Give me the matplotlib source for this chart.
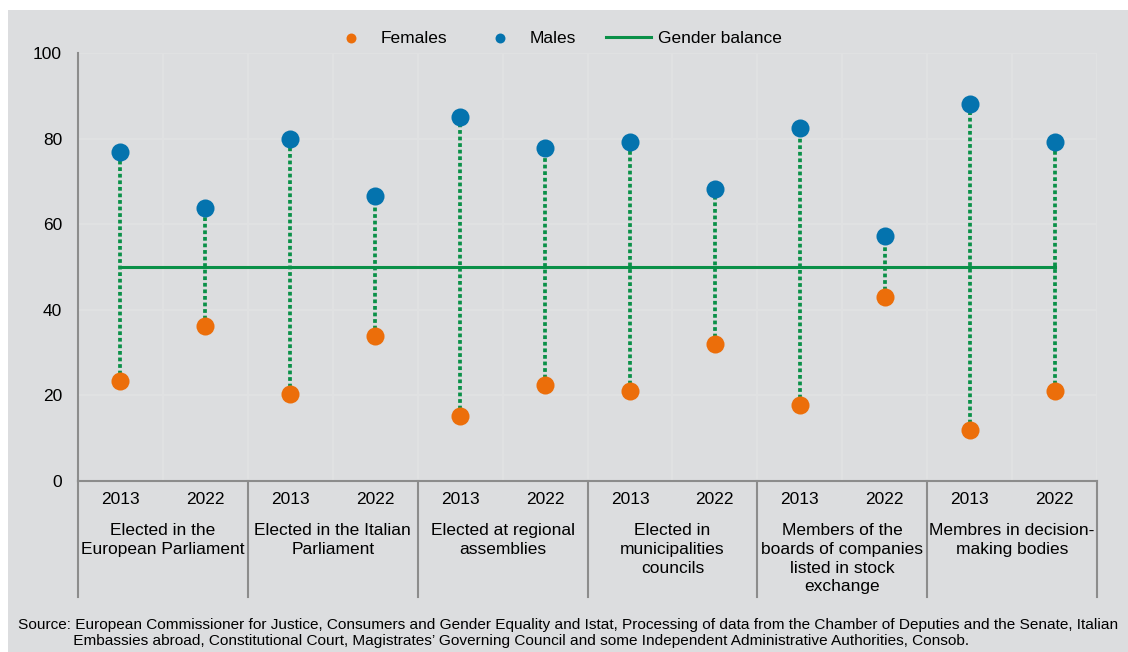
import numpy as np
import matplotlib.pyplot as plt
from matplotlib.patches import Rectangle

plt.rcParams['font.family'] = ['Liberation Sans', 'DejaVu Sans']

# -----------------------------
# Data
# -----------------------------
groups = ["Elected in the\nEuropean Parliament",
          "Elected in the Italian\nParliament",
          "Elected at regional\nassemblies",
          "Elected in\nmunicipalities\ncouncils",
          "Members of the\nboards of companies\nlisted in stock\nexchange",
          "Membres in decision-\nmaking bodies"]
years = ["2013", "2022"]

males = [76.8, 63.9, 79.9, 66.5, 85.0, 77.8, 79.3, 68.2, 82.4, 57.2, 88.0, 79.2]
females = [23.3, 36.3, 20.4, 33.8, 15.1, 22.4, 21.0, 32.0, 17.8, 43.0, 12.0, 21.1]
balance = 50

c_fem = '#EC6E0A'
c_mal = '#0473AE'
c_green = '#0A9048'
bg = '#DCDDDF'
grid_c = '#E1E2E3'
fs = 12.5

x = np.arange(len(males))

fig = plt.figure(figsize=(11.28, 6.52), dpi=100)
fig.patch.set_facecolor(bg)
# white strip at top / left (cropped page)
fig.add_artist(Rectangle((0, 1 - 10 / 652), 1, 10 / 652, transform=fig.transFigure,
                         facecolor='white', edgecolor='none', zorder=0))
fig.add_artist(Rectangle((0, 0), 8 / 1128, 1, transform=fig.transFigure,
                         facecolor='white', edgecolor='none', zorder=0))

ax = fig.add_axes([78 / 1128, 1 - 481 / 652, (1097 - 78) / 1128, (481 - 53) / 652])
ax.set_facecolor(bg)
ax.set_xlim(-0.5, len(males) - 0.5)
ax.set_ylim(0, 100)

# grid
for yy in range(20, 101, 20):
    ax.axhline(yy, color=grid_c, lw=1.2, zorder=0)
for xx in np.arange(0.5, len(males), 1):
    ax.axvline(xx, color=grid_c, lw=1.2, zorder=0)

# dotted connectors
for xi, f, m in zip(x, females, males):
    ax.plot([xi, xi], [f, m], color=c_green, lw=2.7, ls=(0, (1, 0.75)), zorder=2)

ax.plot([x[0], x[-1]], [balance, balance], color=c_green, lw=2.2, zorder=2,
        label='Gender balance')
ax.scatter(x, females, s=13 ** 2, color=c_fem, zorder=3, linewidths=0, label='Females')
ax.scatter(x, males, s=13 ** 2, color=c_mal, zorder=3, linewidths=0, label='Males')

for s in ['top', 'right']:
    ax.spines[s].set_visible(False)
ax.spines['left'].set_color('#8c8c8c')
ax.spines['bottom'].set_color('#8c8c8c')
ax.spines['left'].set_linewidth(1.5)
ax.spines['bottom'].set_linewidth(1.5)

ax.set_yticks(range(0, 101, 20))
ax.tick_params(axis='y', length=0, labelsize=fs, pad=11.5)
ax.set_xticks([])

# year labels and group labels
for i, xi in enumerate(x):
    ax.text(xi, -4.4, years[i % 2], ha='center', va='center', fontsize=fs)
for g, name in enumerate(groups):
    ax.text(2 * g + 0.5, -9.9, name, ha='center', va='top', fontsize=fs,
            linespacing=1.3)
for b in np.arange(-0.5, len(males), 2):
    ax.plot([b, b], [0, -27], color='#8c8c8c', lw=1.5, clip_on=False)

# legend
h, l = ax.get_legend_handles_labels()
order = [1, 2, 0]
leg = fig.legend([h[i] for i in order], [l[i] for i in order], loc='center',
                 bbox_to_anchor=(555 / 1128, 1 - 38 / 652), ncol=3, frameon=False,
                 fontsize=fs, handlelength=2.6, columnspacing=1.75, handletextpad=0.4,
                 markerscale=0.55)

# source
src = ("Source: European Commissioner for Justice, Consumers and Gender Equality and Istat, "
       "Processing of data from the Chamber of Deputies and the Senate, Italian\n"
       "             Embassies abroad, Constitutional Court, Magistrates\u2019 Governing Council "
       "and some Independent Administrative Authorities, Consob.")
fig.text(18 / 1128, 1 - 618 / 652, src, ha='left', va='top', fontsize=11.1,
         linespacing=1.15)

fig.savefig('out.png', dpi=100, facecolor=fig.get_facecolor())
